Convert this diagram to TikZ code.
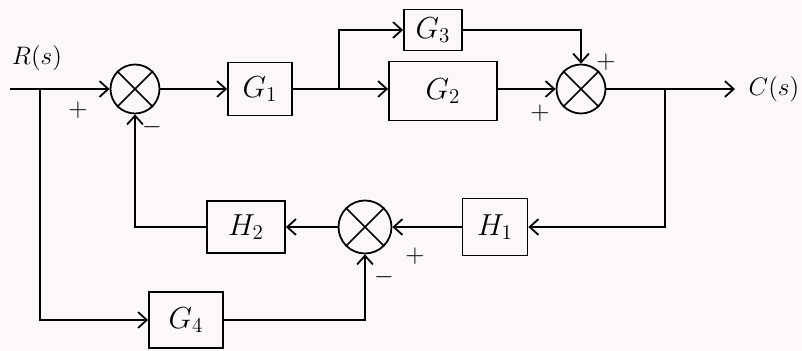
\documentclass[tikz,border=0pt]{standalone}
\usepackage{amsmath,amssymb}
\usepackage{tikz}
\usetikzlibrary{calc,arrows.meta}

\definecolor{paper}{RGB}{252,247,250}

\begin{document}
\begin{tikzpicture}[x=0.02cm,y=-0.02cm,line width=1pt,
    >={Straight Barb[length=5pt,width=9pt]},
    blk/.style={draw,line width=1pt,inner sep=0pt,font=\LARGE},
    sumnode/.style={draw,circle,line width=1pt,minimum size=0.98cm,inner sep=0pt},
    sgn/.style={font=\Large,inner sep=0pt}]
  % paper
  \fill[paper] (0,0) rectangle (802,351);
  \useasboundingbox (0,0) rectangle (802,351);
  % summing junctions
  \node[sumnode] (s1) at (135,89) {};
  \node[sumnode] (s2) at (581,89) {};
  \node[sumnode,minimum size=1.06cm] (s3) at (365,227) {};
  \foreach \s in {s1,s2,s3}
    \draw (\s.north west) -- (\s.south east) (\s.north east) -- (\s.south west);
  % blocks
  \node[blk,minimum width=1.28cm,minimum height=1.06cm] (g1) at (260,89) {$G_1$};
  \node[blk,minimum width=2.16cm,minimum height=1.18cm] (g2) at (443,91) {$G_2$};
  \node[blk,minimum width=1.16cm,minimum height=0.82cm] (g3) at (433,30) {$G_3$};
  \node[blk,minimum width=1.30cm,minimum height=1.14cm] (h1) at (495,227) {$H_1$};
  \node[blk,minimum width=1.56cm,minimum height=1.04cm] (h2) at (246,227) {$H_2$};
  \node[blk,minimum width=1.48cm,minimum height=1.12cm] (g4) at (186,320) {$G_4$};
  % signals
  \coordinate (in) at (10,89);
  \coordinate (br1) at (40,89);
  \coordinate (br2) at (339,89);
  \coordinate (br3) at (665,89);
  \coordinate (out) at (735,89);
  \node[font=\Large] (rs) at (37,58) {$R(s)$};
  \node[font=\Large,right] (cs) at (742,89) {$C(s)$};
  % forward path
  \draw[->] (in) -- (s1);
  \draw[->] (s1) -- (g1);
  \draw (g1) -- (br2);
  \draw[->] (br2) -- (g2.west |- br2);
  \draw[->] (br2) |- (g3);
  \draw[->] (g3) -| (s2);
  \draw[->] (g2.east |- s2) -- (s2);
  \draw[->] (s2) -- (out);
  % feedback paths
  \draw[->] (br3) |- (h1);
  \draw[->] (h1) -- (s3);
  \draw[->] (s3) -- (h2);
  \draw[->] (h2) -| (s1);
  \draw[->] (br1) |- (g4);
  \draw[->] (g4) -| (s3);
  % signs
  \node[sgn] (p1) at (78,110) {$+$};
  \node[sgn] (m1) at (152,127) {$-$};
  \node[sgn] (p2) at (606,62) {$+$};
  \node[sgn] (p3) at (540,113) {$+$};
  \node[sgn] (p4) at (415,256) {$+$};
  \node[sgn] (m3) at (384,277) {$-$};
\end{tikzpicture}
\end{document}
